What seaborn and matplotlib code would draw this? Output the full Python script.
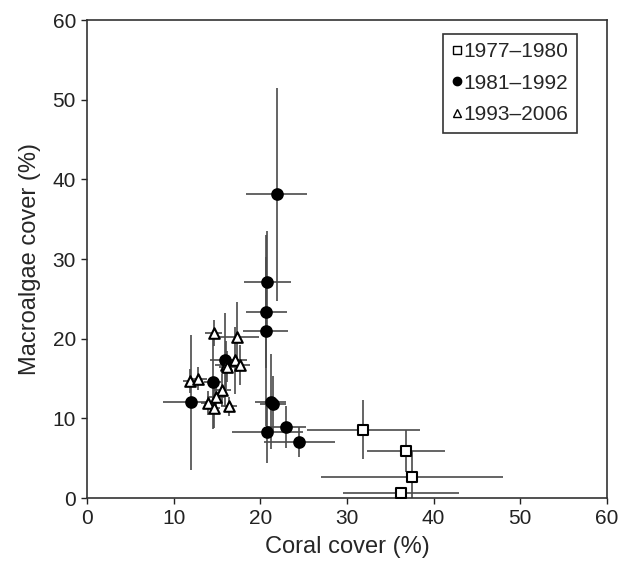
import numpy as np
import pandas as pd
import matplotlib
matplotlib.use('Agg')
import matplotlib.pyplot as plt
import seaborn as sns
from matplotlib.lines import Line2D

# 1977-1980 (open squares)
x_77 = [31.9, 36.8, 37.5, 36.2]
y_77 = [8.6, 5.9, 2.7, 0.6]
xe_77 = [6.5, 4.5, 10.5, 6.7]
ye_77 = [3.7, 2.6, 3.2, 0.0]

# 1981-1992 (filled circles)
x_81 = [21.9, 20.8, 20.7, 20.6, 15.9, 14.5, 12.0, 21.2, 21.5, 20.8, 23.0, 24.5]
y_81 = [38.1, 27.1, 23.3, 21.0, 17.3, 14.5, 12.0, 12.1, 11.8, 8.3, 8.9, 7.0]
xe_81 = [3.5, 2.7, 2.4, 2.6, 1.7, 1.0, 3.2, 1.8, 1.5, 4.1, 2.3, 4.1]
ye_81 = [13.4, 6.4, 7.0, 12.0, 5.9, 5.8, 8.5, 6.0, 3.5, 3.9, 2.6, 1.9]

# 1993-2006 (open triangles)
x_93 = [11.9, 12.8, 14.6, 17.3, 16.0, 17.1, 17.6, 15.6, 14.9, 14.0, 14.6, 16.4, 16.2]
y_93 = [14.7, 15.0, 20.7, 20.2, 16.7, 17.3, 16.7, 13.6, 12.7, 11.9, 11.3, 11.5, 16.5]
xe_93 = [0.8, 1.0, 1.0, 2.6, 1.2, 1.4, 1.2, 1.0, 1.0, 0.8, 0.8, 0.9, 1.0]
ye_93 = [1.5, 1.5, 1.6, 4.4, 3.0, 4.2, 2.5, 2.0, 1.8, 1.5, 2.5, 1.2, 2.0]

periods = ['1977\u20131980', '1981\u20131992', '1993\u20132006']
markers = ['s', 'o', '^']
faces = ['white', 'black', 'white']

sns.set_style('ticks')
plt.rcParams['font.family'] = ['Liberation Sans', 'DejaVu Sans']

fig = plt.figure(figsize=(6.27, 5.64), dpi=100)
ax = fig.add_axes([0.1388, 0.117, 0.8293, 0.8475])

groups = [(x_77, y_77, xe_77, ye_77), (x_81, y_81, xe_81, ye_81),
          (x_93, y_93, xe_93, ye_93)]

frames = []
for (xs, ys, xe, ye), p in zip(groups, periods):
    ax.errorbar(xs, ys, xerr=xe, yerr=ye, fmt='none', ecolor='#4a4a4a',
                elinewidth=1.2, capsize=0, zorder=1)
    frames.append(pd.DataFrame({'coral': xs, 'macro': ys, 'period': p}))
df = pd.concat(frames, ignore_index=True)

for p, m, fc in zip(periods, markers, faces):
    sub = df[df['period'] == p]
    sns.scatterplot(data=sub, x='coral', y='macro', marker=m, s=58,
                    color=fc, edgecolor='black', linewidth=1.5,
                    ax=ax, zorder=3, legend=False)

ax.set_xlim(0, 60)
ax.set_ylim(0, 60)
ax.set_xticks(range(0, 61, 10))
ax.set_yticks(range(0, 61, 10))
ax.tick_params(direction='out', length=4, width=1, labelsize=15,
               colors='#222222', pad=4)
for s in ax.spines.values():
    s.set_linewidth(1.2)
    s.set_color('#333333')
ax.set_xlabel('Coral cover (%)', fontsize=17, labelpad=6)
ax.set_ylabel('Macroalgae cover (%)', fontsize=17, labelpad=8)

handles = [Line2D([], [], marker=m, linestyle='none', markerfacecolor=fc,
                  markeredgecolor='black', markeredgewidth=1.0, markersize=6)
           for m, fc in zip(markers, faces)]
leg = ax.legend(handles, periods, loc='upper right',
                bbox_to_anchor=(0.942, 0.971), fontsize=15, frameon=True,
                fancybox=False, handletextpad=0.05, handlelength=0.55,
                borderpad=0.4, labelspacing=0.6, borderaxespad=0)
leg.get_frame().set_edgecolor('black')
leg.get_frame().set_linewidth(1.2)

fig.savefig('out.png', dpi=100)
